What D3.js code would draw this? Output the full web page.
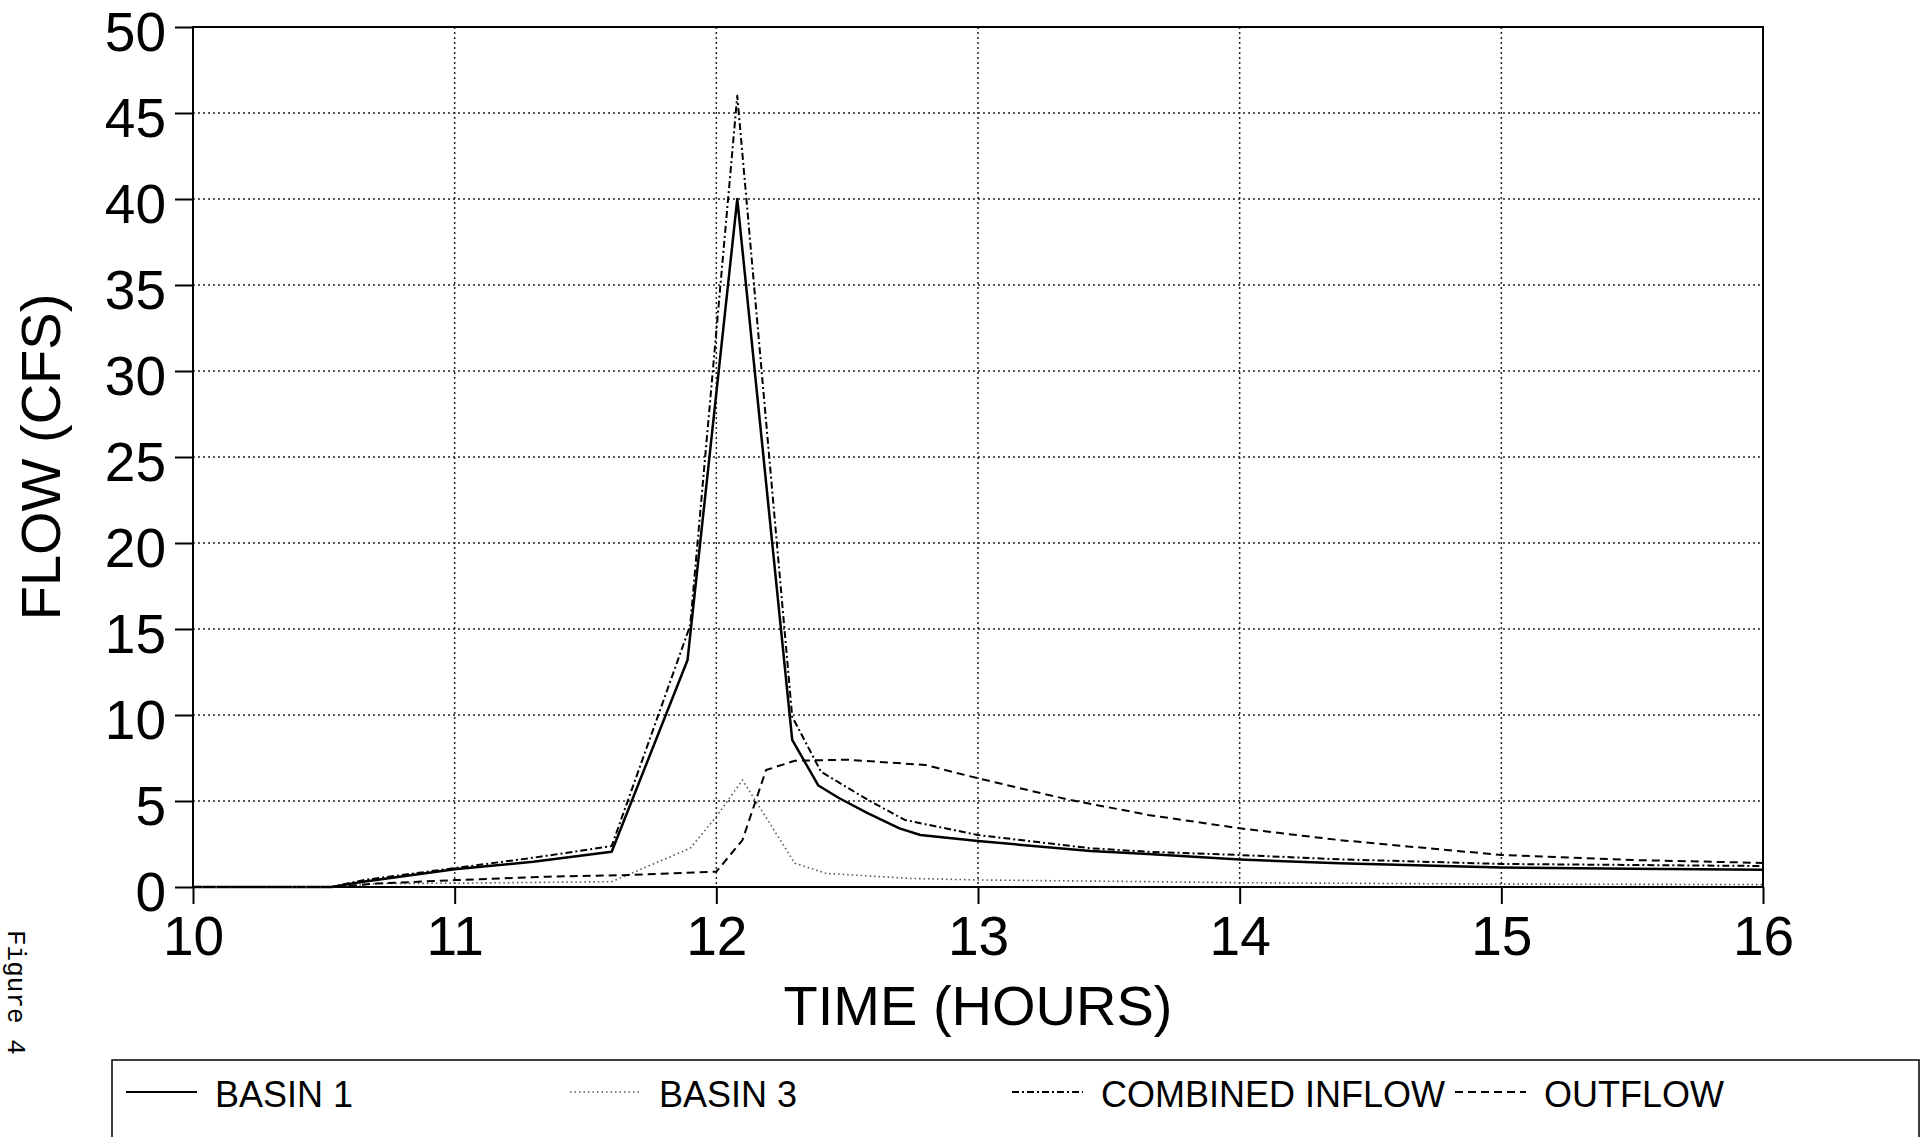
<!doctype html>
<html lang="en">
  <head>
    <meta charset="UTF-8" />
    <title>Flow (CFS) vs Time (Hours)</title>
    <script src="https://d3js.org/d3.v7.min.js"></script>
    <style>
      body {
        margin: 0;
        background: #fff;
      }
      svg {
        display: block;
        font-family: 'Liberation Sans', Arial, sans-serif;
      }
      .grid line {
        stroke: #222;
        stroke-width: 1.5;
        stroke-dasharray: 2, 3;
      }
      .axis text {
        font-size: 55px;
        fill: #000;
      }
      .axis line {
        stroke: #000;
        stroke-width: 2;
      }
      .axis-title {
        font-size: 56px;
        fill: #000;
        text-anchor: middle;
      }
      .legend-label {
        font-size: 36px;
        fill: #000;
      }
      .fig-note {
        font-family: 'Liberation Mono', 'Courier New', monospace;
        font-size: 26px;
        fill: #000;
      }
    </style>
  </head>
  <body>
    <div id="chart"></div>
    <script>
      // axis ticks
      const hourTicks = [10, 11, 12, 13, 14, 15, 16]
      const flowTicks = [0, 5, 10, 15, 20, 25, 30, 35, 40, 45, 50]

      // BASIN 1 (solid)
      const basin1Hours = [10, 10.53, 10.65, 11.0, 11.3, 11.6, 11.89, 12.08, 12.29, 12.39, 12.47, 12.58, 12.7, 12.78, 13.0, 13.43, 13.65, 14.0, 14.38, 15.0, 15.5, 16.0]
      const basin1Flow = [0, 0, 0.3, 1.03, 1.47, 2.05, 13.2, 40.0, 8.55, 5.9, 5.16, 4.28, 3.41, 3.02, 2.67, 2.1, 1.92, 1.6, 1.38, 1.14, 1.06, 1.0]

      // BASIN 3 (fine dots)
      const basin3Hours = [10, 10.55, 10.7, 11.0, 11.6, 11.9, 12.0, 12.1, 12.3, 12.42, 12.74, 13.0, 13.65, 14.0, 15.0, 16.0]
      const basin3Flow = [0, 0, 0.2, 0.22, 0.31, 2.25, 4.09, 6.22, 1.38, 0.79, 0.5, 0.41, 0.31, 0.25, 0.17, 0.14]

      // COMBINED INFLOW
      const combinedHours = [10, 10.53, 10.65, 11.0, 11.3, 11.6, 11.9, 12.08, 12.29, 12.4, 12.58, 12.72, 13.0, 13.43, 13.65, 14.0, 14.38, 15.0, 15.5, 16.0]
      const combinedFlow = [0, 0, 0.4, 1.1, 1.7, 2.38, 15.2, 46.0, 9.9, 6.7, 5.06, 3.9, 3.02, 2.25, 2.05, 1.86, 1.61, 1.34, 1.28, 1.22]

      // OUTFLOW
      const outflowHours = [10, 10.55, 10.7, 11.0, 11.36, 11.67, 12.0, 12.1, 12.19, 12.3, 12.5, 12.8, 13.0, 13.34, 13.65, 14.0, 14.38, 15.0, 15.5, 16.0]
      const outflowFlow = [0, 0, 0.2, 0.4, 0.6, 0.7, 0.89, 2.73, 6.8, 7.34, 7.4, 7.09, 6.32, 5.1, 4.19, 3.41, 2.73, 1.86, 1.57, 1.4]

      const seriesNames = ['BASIN 1', 'BASIN 3', 'COMBINED INFLOW', 'OUTFLOW']

      const series = [
        { name: seriesNames[0], hours: basin1Hours, flow: basin1Flow, dash: null, width: 2.5, color: '#000' },
        { name: seriesNames[1], hours: basin3Hours, flow: basin3Flow, dash: '1.5,3', width: 1.6, color: '#555' },
        { name: seriesNames[2], hours: combinedHours, flow: combinedFlow, dash: '7,3,2,3', width: 2, color: '#000' },
        { name: seriesNames[3], hours: outflowHours, flow: outflowFlow, dash: '8,5', width: 2, color: '#000' },
      ]

      const W = 1929
      const H = 1137
      const plot = { left: 193, right: 1763, top: 27, bottom: 887 }

      const svg = d3.select('#chart').append('svg').attr('width', W).attr('height', H)
      svg.append('rect').attr('width', W).attr('height', H).attr('fill', '#fff')

      const x = d3.scaleLinear().domain([10, 16]).range([plot.left, plot.right])
      const y = d3.scaleLinear().domain([0, 50]).range([plot.bottom, plot.top])

      // dotted grid
      svg.append('g')
        .attr('class', 'grid')
        .selectAll('line.h')
        .data(flowTicks.filter((d) => d > 0 && d < 50))
        .join('line')
        .attr('x1', plot.left)
        .attr('x2', plot.right)
        .attr('y1', (d) => y(d))
        .attr('y2', (d) => y(d))

      svg.append('g')
        .attr('class', 'grid')
        .selectAll('line.v')
        .data(hourTicks.filter((d) => d > 10 && d < 16))
        .join('line')
        .attr('x1', (d) => x(d))
        .attr('x2', (d) => x(d))
        .attr('y1', plot.top)
        .attr('y2', plot.bottom)

      // axes
      const yAxis = svg.append('g')
        .attr('class', 'axis')
        .attr('transform', `translate(${plot.left},0)`)
        .call(d3.axisLeft(y).tickValues(flowTicks).tickFormat(d3.format('d')).tickSize(18).tickPadding(9))
      yAxis.select('.domain').remove()
      yAxis.selectAll('text').attr('dy', '0.42em')

      const xAxis = svg.append('g')
        .attr('class', 'axis')
        .attr('transform', `translate(0,${plot.bottom})`)
        .call(d3.axisBottom(x).tickValues(hourTicks).tickFormat(d3.format('d')).tickSize(17).tickPadding(12))
      xAxis.select('.domain').remove()

      // frame
      svg.append('rect')
        .attr('x', plot.left)
        .attr('y', plot.top)
        .attr('width', plot.right - plot.left)
        .attr('height', plot.bottom - plot.top)
        .attr('fill', 'none')
        .attr('stroke', '#000')
        .attr('stroke-width', 2)

      // lines
      const line = d3.line()
        .x((d) => x(d[0]))
        .y((d) => y(d[1]))

      series.forEach((s) => {
        svg.append('path')
          .datum(s.hours.map((h, i) => [h, s.flow[i]]))
          .attr('d', line)
          .attr('fill', 'none')
          .attr('stroke', s.color)
          .attr('stroke-width', s.width)
          .attr('stroke-dasharray', s.dash)
          .attr('stroke-linejoin', 'round')
      })

      // axis titles
      svg.append('text')
        .attr('class', 'axis-title')
        .attr('x', (plot.left + plot.right) / 2)
        .attr('y', 1025)
        .text('TIME (HOURS)')

      svg.append('text')
        .attr('class', 'axis-title')
        .attr('transform', `translate(60,${(plot.top + plot.bottom) / 2}) rotate(-90)`)
        .text('FLOW (CFS)')

      // side note
      svg.append('text')
        .attr('class', 'fig-note')
        .attr('transform', 'translate(8,930) rotate(90)')
        .text('Figure 4')

      // legend
      svg.append('rect')
        .attr('x', 112)
        .attr('y', 1060)
        .attr('width', 1919 - 112)
        .attr('height', 140)
        .attr('fill', 'none')
        .attr('stroke', '#000')
        .attr('stroke-width', 1.5)

      const legendX = [126, 570, 1012, 1455]
      const legend = svg.append('g')
        .selectAll('g')
        .data(series)
        .join('g')
        .attr('transform', (d, i) => `translate(${legendX[i]},0)`)

      legend.append('line')
        .attr('x1', 0)
        .attr('x2', 71)
        .attr('y1', 1092)
        .attr('y2', 1092)
        .attr('stroke', (d) => d.color)
        .attr('stroke-width', (d) => Math.min(d.width, 2))
        .attr('stroke-dasharray', (d) => d.dash)

      legend.append('text')
        .attr('class', 'legend-label')
        .attr('x', 89)
        .attr('y', 1107)
        .text((d) => d.name)
    </script>
  </body>
</html>
